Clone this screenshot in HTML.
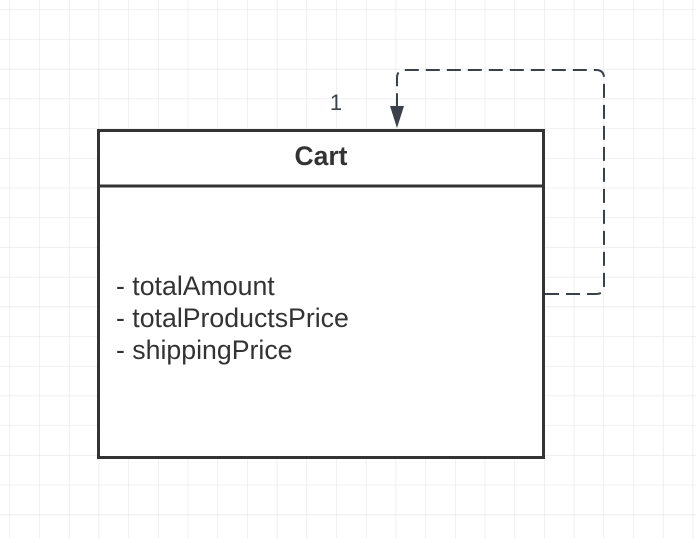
<!DOCTYPE html>
<html><head><style>
body{margin:0;width:696px;height:538px;overflow:hidden;background:#fff;font-family:"Liberation Sans",sans-serif;}
</style></head><body>
<svg width="696" height="538" xmlns="http://www.w3.org/2000/svg">
<defs>
<pattern id="g" x="9.5" y="9.5" width="29.7" height="29.7" patternUnits="userSpaceOnUse">
<path d="M0 0H29.7M0 0V29.7" stroke="#e6e6e6" stroke-width="1.2" fill="none"/>
</pattern>
</defs>
<rect width="696" height="538" fill="url(#g)"/>
<rect x="98.5" y="130.5" width="445" height="327" fill="#fff" stroke="#333" stroke-width="3"/>
<line x1="98" y1="186" x2="544" y2="186" stroke="#333" stroke-width="3"/>
<text x="321" y="165" text-anchor="middle" font-size="26.5" font-weight="bold" fill="#333">Cart</text>
<text font-size="26.7" fill="#333">
<tspan x="116" y="295">- totalAmount</tspan>
<tspan x="116" y="327">- totalProductsPrice</tspan>
<tspan x="116" y="359">- shippingPrice</tspan>
</text>
<path d="M545 294H596Q604 294 604 286V78Q604 70 596 70H405Q397 70 397 78V106" fill="none" stroke="#3a414a" stroke-width="2" stroke-dasharray="14,7"/>
<polygon points="390,106 404,106 397,128" fill="#3a414a"/>
<text x="336" y="110" text-anchor="middle" font-size="22" fill="#3a414a">1</text>
</svg>
</body></html>
